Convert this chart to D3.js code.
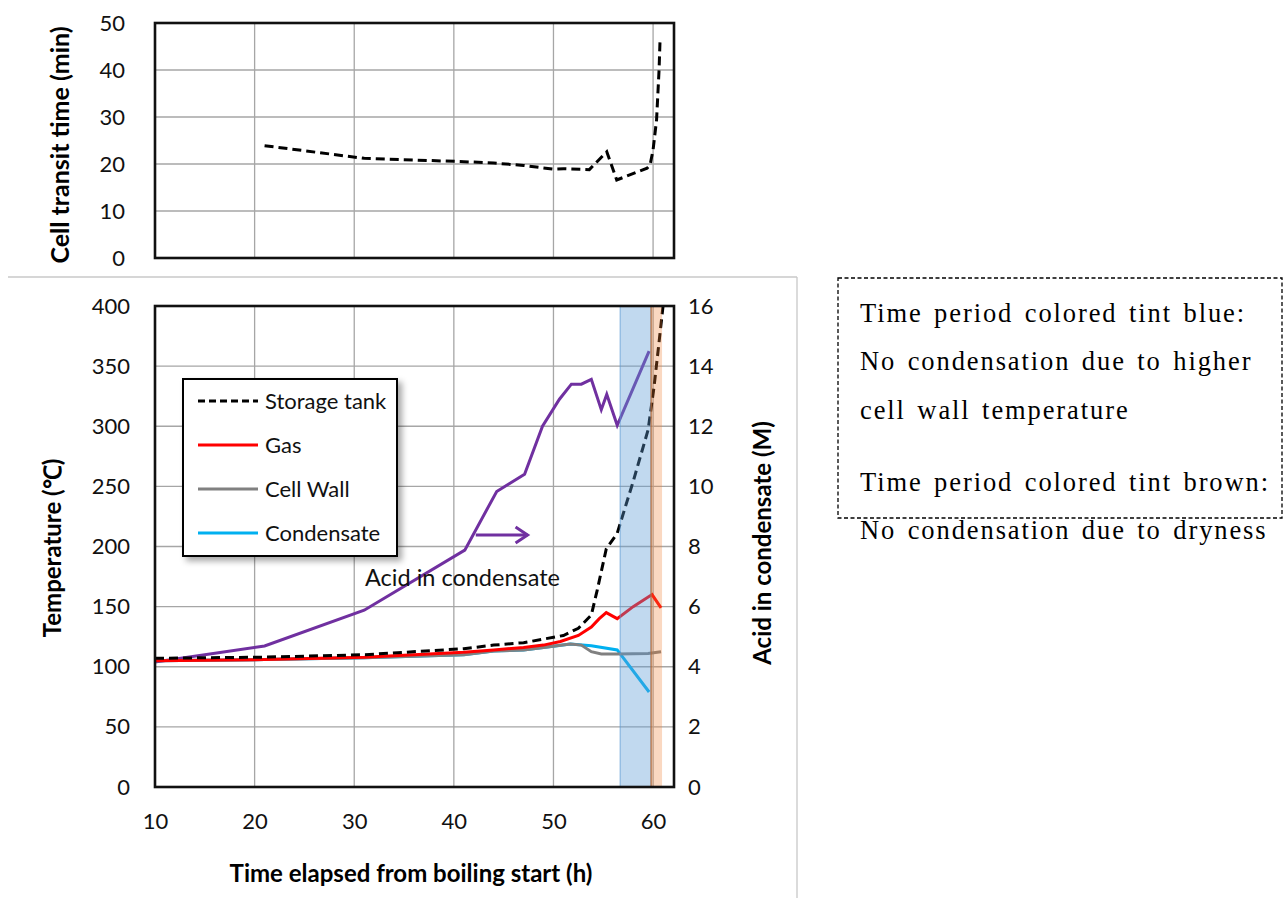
<!DOCTYPE html>
<html>
<head>
<meta charset="utf-8">
<script src="https://cdn.jsdelivr.net/npm/d3@7"></script>
<style>
  body { margin: 0; background: #fff; }
  svg { display: block; font-family: Lato, "Open Sans", sans-serif; }
</style>
</head>
<body>
<script>
// transit time (upper panel)
var transitHours = [21, 31, 41, 44, 47, 50, 51, 53.6, 55.35, 56.35, 59.4, 59.7, 60.0, 60.35, 60.6, 60.7];
var transitMin   = [23.9, 21.2, 20.5, 20.2, 19.7, 18.9, 19.0, 18.8, 22.6, 16.6, 19.1, 19.8, 23, 29.4, 40, 46.4];

// temperatures (lower panel, left axis)
var tankHours = [10, 21, 31, 41, 44, 47, 49, 51, 52.5, 53.8, 54.4, 55.3, 56.4, 58, 59.5, 60.1, 60.6, 61];
var tankTemp  = [107, 108, 110, 115, 118, 120, 123, 126, 132, 143, 164, 198, 211, 254, 297, 333, 370, 400];

var gasHours = [10, 21, 31, 41, 44, 47, 49, 50.7, 52.5, 53.8, 54.6, 55.3, 56.4, 58, 59.9, 60.8];
var gasTemp  = [105, 106, 108, 112, 114, 116, 118, 121, 126, 133, 140, 145, 140, 150, 160, 149];

var wallHours = [10, 21, 31, 41, 44, 47, 49, 51.7, 52.8, 53.8, 54.8, 56.4, 59.5, 60.8];
var wallTemp  = [105, 106, 107.5, 110, 113, 114, 116, 119, 118, 112.5, 110.6, 110.6, 111, 112.5];

var condHours = [10, 21, 31, 41, 44, 47, 49, 51.7, 53.8, 56.4, 59.6];
var condTemp  = [105, 106, 107.5, 110, 113, 114, 116, 119, 117.5, 114, 79];

// acid (lower panel, right axis)
var acidHours = [10, 21, 31, 41.1, 44.3, 47.1, 48.9, 50.6, 51.8, 52.8, 53.8, 54.8, 55.35, 56.4, 59.6];
var acidM     = [4.16, 4.69, 5.88, 7.88, 9.83, 10.4, 12.0, 12.9, 13.4, 13.4, 13.56, 12.55, 13.06, 12.03, 14.5];

// shaded periods
var bluePeriod  = [56.7, 59.8];
var brownPeriod = [59.8, 60.9];

var xTicks = [10, 20, 30, 40, 50, 60];
var tempTicks = [0, 50, 100, 150, 200, 250, 300, 350, 400];
var acidTicks = [0, 2, 4, 6, 8, 10, 12, 14, 16];
var transitTicks = [0, 10, 20, 30, 40, 50];

var legendItems = ["Storage tank", "Gas", "Cell Wall", "Condensate"];
var noteLines = ["Time period colored tint blue:", "No condensation due to higher",
  "cell wall temperature", "", "Time period colored tint brown:", "No condensation due to dryness"];

var W = 1283, H = 898;
var svg = d3.select("body").append("svg").attr("width", W).attr("height", H);

var defs = svg.append("defs");
var f = defs.append("filter").attr("id", "shadow").attr("x", "-10%").attr("y", "-10%")
  .attr("width", "130%").attr("height", "130%");
f.append("feDropShadow").attr("dx", 4).attr("dy", 4).attr("stdDeviation", 3)
  .attr("flood-color", "#000").attr("flood-opacity", 0.35);

var x = d3.scaleLinear().domain([10, 62.1]).range([155, 674]);
var yT = d3.scaleLinear().domain([0, 400]).range([787, 306]);
var yA = d3.scaleLinear().domain([0, 16]).range([787, 306]);
var yC = d3.scaleLinear().domain([0, 50]).range([258, 23]);

function pts(xs, ys) { return xs.map(function(v, i) { return [v, ys[i]]; }); }

function tickFont(sel) {
  sel.selectAll("text").style("font-size", "22px").style("font-family", "Lato").attr("fill", "#111");
}

// frame lines of the lower chart
svg.append("line").attr("x1", 8).attr("x2", 797).attr("y1", 277).attr("y2", 277)
  .attr("stroke", "#c8c8c8").attr("stroke-width", 1.3);
svg.append("line").attr("x1", 797).attr("x2", 797).attr("y1", 277).attr("y2", H)
  .attr("stroke", "#c8c8c8").attr("stroke-width", 1.3);

function grid(g, yScale, yTicks, y0, y1) {
  g.selectAll(".hg").data(yTicks).enter().append("line")
    .attr("x1", x.range()[0]).attr("x2", x.range()[1])
    .attr("y1", function(d) { return yScale(d); }).attr("y2", function(d) { return yScale(d); })
    .attr("stroke", "#a6a6a6").attr("stroke-width", 1.3);
  g.selectAll(".vg").data(xTicks).enter().append("line")
    .attr("x1", function(d) { return x(d); }).attr("x2", function(d) { return x(d); })
    .attr("y1", y0).attr("y2", y1)
    .attr("stroke", "#a6a6a6").attr("stroke-width", 1.3);
}

// ---------- upper panel ----------
var upper = svg.append("g");
grid(upper, yC, transitTicks, 23, 258);

upper.append("g").attr("transform", "translate(155,0)")
  .call(d3.axisLeft(yC).tickValues(transitTicks).tickSize(0).tickPadding(30))
  .call(function(g) { g.select(".domain").remove(); })
  .call(tickFont);

upper.append("path").datum(pts(transitHours, transitMin))
  .attr("d", d3.line().x(function(d) { return x(d[0]); }).y(function(d) { return yC(d[1]); }))
  .attr("fill", "none").attr("stroke", "#000").attr("stroke-width", 3)
  .attr("stroke-dasharray", "9,5");

upper.append("rect").attr("x", 155).attr("y", 23).attr("width", 519).attr("height", 235)
  .attr("fill", "none").attr("stroke", "#111").attr("stroke-width", 2.6);

upper.append("text").attr("transform", "translate(69,145) rotate(-90)")
  .attr("text-anchor", "middle").style("font-size", "25px").style("font-weight", "bold")
  .text("Cell transit time (min)");

// ---------- lower panel ----------
var lower = svg.append("g");
grid(lower, yT, tempTicks, 306, 787);

var line = d3.line().x(function(d) { return x(d[0]); }).y(function(d) { return yT(d[1]); });
var lineA = d3.line().x(function(d) { return x(d[0]); }).y(function(d) { return yA(d[1]); });

lower.append("path").datum(pts(acidHours, acidM)).attr("d", lineA)
  .attr("fill", "none").attr("stroke", "#7030a0").attr("stroke-width", 3);
lower.append("path").datum(pts(condHours, condTemp)).attr("d", line)
  .attr("fill", "none").attr("stroke", "#00b0f0").attr("stroke-width", 3);
lower.append("path").datum(pts(wallHours, wallTemp)).attr("d", line)
  .attr("fill", "none").attr("stroke", "#808080").attr("stroke-width", 3);
lower.append("path").datum(pts(gasHours, gasTemp)).attr("d", line)
  .attr("fill", "none").attr("stroke", "#ff0000").attr("stroke-width", 3);
lower.append("path").datum(pts(tankHours, tankTemp)).attr("d", line)
  .attr("fill", "none").attr("stroke", "#000").attr("stroke-width", 3)
  .attr("stroke-dasharray", "9,5");

// shaded periods drawn over the lines
lower.append("rect").attr("x", x(bluePeriod[0])).attr("y", 306)
  .attr("width", x(bluePeriod[1]) - x(bluePeriod[0])).attr("height", 481)
  .attr("fill", "#5b9bd5").attr("fill-opacity", 0.38)
  .attr("stroke", "#5b9bd5").attr("stroke-opacity", 0.5).attr("stroke-width", 1.5);
lower.append("rect").attr("x", x(brownPeriod[0])).attr("y", 306)
  .attr("width", x(brownPeriod[1]) - x(brownPeriod[0])).attr("height", 481)
  .attr("fill", "#ed7d31").attr("fill-opacity", 0.3);
lower.append("line").attr("x1", x(brownPeriod[0])).attr("x2", x(brownPeriod[0]))
  .attr("y1", 306).attr("y2", 787).attr("stroke", "#c55a11").attr("stroke-opacity", 0.6).attr("stroke-width", 1.5);

lower.append("rect").attr("x", 155).attr("y", 306).attr("width", 519).attr("height", 481)
  .attr("fill", "none").attr("stroke", "#111").attr("stroke-width", 2.6);

// axes
lower.append("g").attr("transform", "translate(155,0)")
  .call(d3.axisLeft(yT).tickValues(tempTicks).tickSize(0).tickPadding(25))
  .call(function(g) { g.select(".domain").remove(); })
  .call(tickFont);
lower.append("g").attr("transform", "translate(674,0)")
  .call(d3.axisRight(yA).tickValues(acidTicks).tickSize(0).tickPadding(14))
  .call(function(g) { g.select(".domain").remove(); })
  .call(tickFont);
lower.append("g").attr("transform", "translate(0,787)")
  .call(d3.axisBottom(x).tickValues(xTicks).tickSize(0).tickPadding(26))
  .call(function(g) { g.select(".domain").remove(); })
  .call(tickFont);

lower.append("text").attr("transform", "translate(61,548) rotate(-90)")
  .attr("text-anchor", "middle").style("font-size", "24px").style("font-weight", "bold")
  .text("Temperature (℃)");
lower.append("text").attr("transform", "translate(771,543) rotate(-90)")
  .attr("text-anchor", "middle").style("font-size", "24px").style("font-weight", "bold")
  .text("Acid in condensate (M)");
lower.append("text").attr("x", 411).attr("y", 882)
  .attr("text-anchor", "middle").style("font-size", "24px").style("font-weight", "bold")
  .text("Time elapsed from boiling start (h)");

// annotation arrow and label
var arrowY = yT(209.5);
lower.append("line").attr("x1", x(42.2)).attr("x2", x(47.4)).attr("y1", arrowY).attr("y2", arrowY)
  .attr("stroke", "#7030a0").attr("stroke-width", 3);
lower.append("path")
  .attr("d", "M" + (x(47.4) - 12) + "," + (arrowY - 8) + "L" + x(47.4) + "," + arrowY + "L" + (x(47.4) - 12) + "," + (arrowY + 8))
  .attr("fill", "none").attr("stroke", "#7030a0").attr("stroke-width", 3);
lower.append("text").attr("x", 365).attr("y", 586).style("font-size", "23.5px").attr("fill", "#111")
  .text("Acid in condensate");

// legend
var lg = lower.append("g");
lg.append("rect").attr("x", 183).attr("y", 379).attr("width", 214).attr("height", 177)
  .attr("fill", "#fff").attr("stroke", "#000").attr("stroke-width", 2).attr("filter", "url(#shadow)");
var legStyle = [
  { c: "#000", dash: "7,4" }, { c: "#ff0000", dash: null },
  { c: "#808080", dash: null }, { c: "#00b0f0", dash: null }];
var li = lg.selectAll(".li").data(legendItems).enter().append("g")
  .attr("transform", function(d, i) { return "translate(0," + (401 + i * 44) + ")"; });
li.append("line").attr("x1", 198).attr("x2", 258)
  .attr("stroke", function(d, i) { return legStyle[i].c; })
  .attr("stroke-dasharray", function(d, i) { return legStyle[i].dash; })
  .attr("stroke-width", 3);
li.append("text").attr("x", 265).attr("dy", "0.35em").style("font-size", "22px").attr("fill", "#111")
  .text(function(d) { return d; });

// note box
svg.append("rect").attr("x", 838).attr("y", 278).attr("width", 444).attr("height", 240)
  .attr("fill", "none").attr("stroke", "#000").attr("stroke-width", 1.3).attr("stroke-dasharray", "4,2.5");
svg.append("g").selectAll("text").data(noteLines).enter().append("text")
  .attr("x", 860).attr("y", function(d, i) { return [322, 370, 419, 0, 491, 539][i]; })
  .style("font-family", "'Liberation Serif', serif").style("font-size", "26.5px")
  .style("letter-spacing", "1.9px").style("word-spacing", "3px").attr("fill", "#000")
  .text(function(d) { return d; });
</script>
</body>
</html>
